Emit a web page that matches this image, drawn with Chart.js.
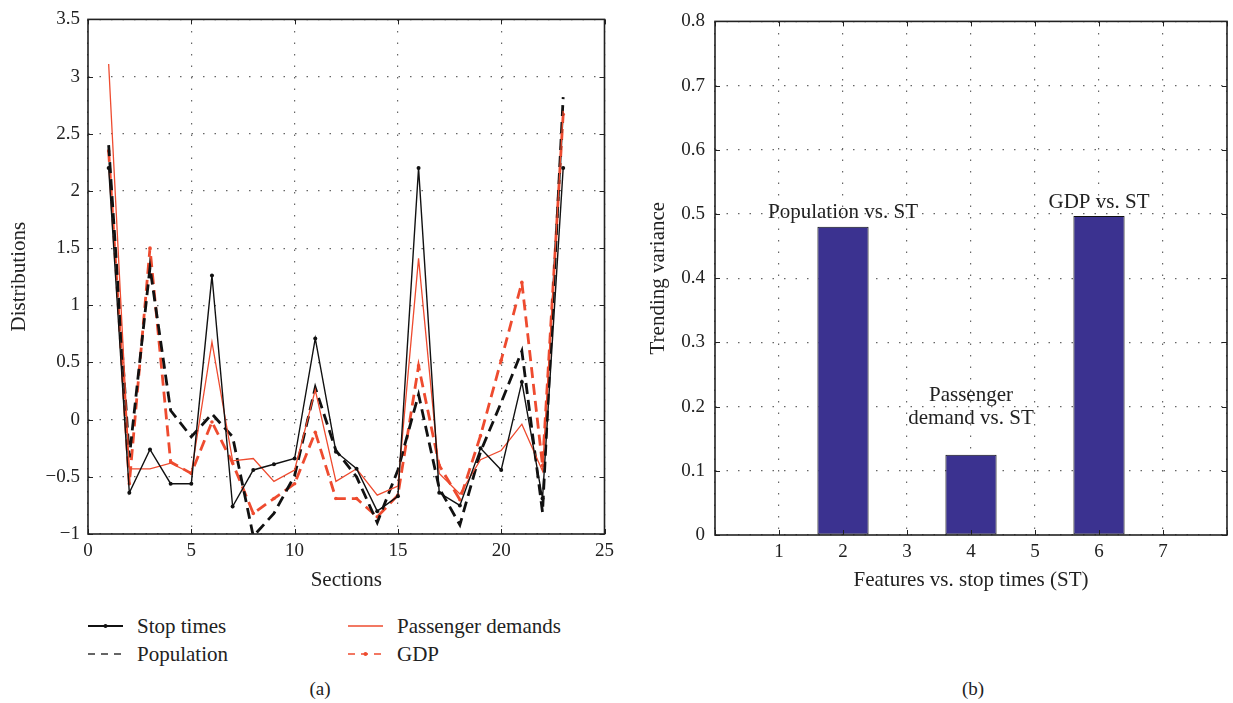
<!DOCTYPE html>
<html>
<head>
<meta charset="utf-8">
<script src="https://cdn.jsdelivr.net/npm/chart.js@4.4.1/dist/chart.umd.min.js"></script>
<style>
  body { margin: 0; background: #fff; width: 1233px; height: 703px; position: relative; overflow: hidden; font-family: "Liberation Serif", "Times New Roman", serif; color: #222; }
  canvas { position: absolute; top: 0; }
  #left { left: 0; }
  #right { left: 640px; }
  .leg { position: absolute; font-size: 21px; line-height: 22px; display: flex; align-items: center; }
  .leg svg { margin-right: 14px; }
  .cap { position: absolute; font-size: 19px; transform: translateX(-50%); }
</style>
</head>
<body>
<canvas id="left" width="620" height="600"></canvas>
<canvas id="right" width="593" height="600"></canvas>

<div class="leg" style="left:88px; top:615px;"><svg width="35" height="8"><line x1="0" y1="4" x2="35" y2="4" stroke="#111" stroke-width="2"/><circle cx="17.5" cy="4" r="2" fill="#111"/></svg>Stop times</div>
<div class="leg" style="left:88px; top:643px;"><svg width="35" height="8"><line x1="0" y1="4" x2="35" y2="4" stroke="#333" stroke-width="1.6" stroke-dasharray="7,6"/></svg>Population</div>
<div class="leg" style="left:348px; top:615px;"><svg width="35" height="8"><line x1="0" y1="4" x2="35" y2="4" stroke="#ee4b2f" stroke-width="1.6"/></svg>Passenger demands</div>
<div class="leg" style="left:348px; top:643px;"><svg width="35" height="8"><line x1="0" y1="4" x2="35" y2="4" stroke="#ee4b2f" stroke-width="1.6" stroke-dasharray="7,6"/><circle cx="17.5" cy="4" r="2" fill="#ee4b2f"/></svg>GDP</div>

<div class="cap" style="left:320px; top:678px;">(a)</div>
<div class="cap" style="left:973px; top:678px;">(b)</div>

<script>
// === données (a) ===
const sections = [1, 2, 3, 4, 5, 6, 7, 8, 9, 10, 11, 12, 13, 14, 15, 16, 17, 18, 19, 20, 21, 22, 23];
const stopTimes = [2.2, -0.64, -0.26, -0.56, -0.56, 1.26, -0.76, -0.44, -0.39, -0.34, 0.71, -0.28, -0.43, -0.80, -0.67, 2.2, -0.64, -0.75, -0.25, -0.44, 0.33, -0.69, 2.2];
const population = [2.40, -0.33, 1.33, 0.08, -0.15, 0.05, -0.15, -1.02, -0.82, -0.49, 0.28, -0.27, -0.50, -0.90, -0.44, 0.22, -0.60, -0.92, -0.28, 0.15, 0.60, -0.81, 2.82];
const passengerDemands = [3.11, -0.43, -0.43, -0.38, -0.47, 0.68, -0.36, -0.34, -0.54, -0.44, 0.26, -0.54, -0.43, -0.66, -0.58, 1.41, -0.47, -0.65, -0.35, -0.27, -0.04, -0.45, 2.7];
const gdp = [2.35, -0.56, 1.50, -0.37, -0.47, -0.02, -0.38, -0.82, -0.69, -0.56, -0.11, -0.69, -0.69, -0.85, -0.66, 0.47, -0.40, -0.70, -0.14, 0.52, 1.20, -0.40, 2.67];

// === données (b) ===
const features = ['0', '1', '2', '3', '4', '5', '6', '7', '8'];
const trendingVariance = [null, 0, 0.48, 0, 0.125, 0, 0.497, 0, null];
const barNotes = [
    { label: '2', y: 0.503, text: ['Population vs. ST'] },
    { label: '4', y: 0.2, text: ['Passenger', 'demand vs. ST'] },
    { label: '6', y: 0.518, text: ['GDP vs. ST'] }
];

const RED = '#ee4b2f';
const INK = '#222';
const SERIF = '"Liberation Serif", "Times New Roman", serif';
Chart.defaults.font.family = SERIF;
Chart.defaults.font.size = 19;
Chart.defaults.color = INK;

const pts = (ys) => sections.map((s, i) => ({ x: s, y: ys[i] }));

// cadre + petites graduations vers l'intérieur
const frameTicks = {
    id: 'frameTicks',
    afterDraw(chart) {
        const { ctx, chartArea: a, scales } = chart;
        ctx.save();
        ctx.strokeStyle = INK;
        ctx.lineWidth = 1;
        ctx.beginPath();
        scales.x.ticks.forEach((t, i) => {
            const px = Math.round(scales.x.getPixelForTick(i)) + 0.5;
            ctx.moveTo(px, a.bottom); ctx.lineTo(px, a.bottom - 5);
            ctx.moveTo(px, a.top); ctx.lineTo(px, a.top + 5);
        });
        scales.y.ticks.forEach((t, i) => {
            const py = Math.round(scales.y.getPixelForTick(i)) + 0.5;
            ctx.moveTo(a.left, py); ctx.lineTo(a.left + 5, py);
            ctx.moveTo(a.right, py); ctx.lineTo(a.right - 5, py);
        });
        ctx.stroke();
        ctx.lineWidth = 1.6;
        ctx.strokeRect(a.left, a.top, a.right - a.left, a.bottom - a.top);
        ctx.restore();
    }
};

const dotted = { color: '#666', lineWidth: 1.2 };
const titleFont = { size: 21 };

new Chart(document.getElementById('left'), {
    type: 'line',
    data: {
        datasets: [
            { label: 'Stop times', data: pts(stopTimes), borderColor: '#111', borderWidth: 1.4, pointRadius: 2, pointBackgroundColor: '#111', pointBorderWidth: 0 },
            { label: 'Passenger demands', data: pts(passengerDemands), borderColor: RED, borderWidth: 1.3, pointRadius: 0 },
            { label: 'Population', data: pts(population), borderColor: '#111', borderWidth: 2.8, borderDash: [11, 6], pointRadius: 0 },
            { label: 'GDP', data: pts(gdp), borderColor: RED, borderWidth: 2.8, borderDash: [11, 6], pointRadius: 1.8, pointBackgroundColor: RED, pointBorderWidth: 0 }
        ]
    },
    options: {
        responsive: false,
        animation: false,
        layout: { padding: { top: 15, right: 10, left: 0, bottom: 0 } },
        plugins: { legend: { display: false }, tooltip: { enabled: false } },
        scales: {
            x: {
                type: 'linear', min: 0, max: 25,
                ticks: { stepSize: 5, padding: 6, maxRotation: 0 },
                grid: { ...dotted, drawTicks: false },
                border: { display: false, dash: [1.5, 10] },
                title: { display: true, text: 'Sections', font: titleFont, padding: { top: 0, bottom: 7 } },
                afterFit: s => { s.height = 66; }
            },
            y: {
                min: -1, max: 3.5,
                ticks: { stepSize: 0.5, padding: 8, callback: v => String(v).replace('-', '\u2212') },
                grid: { ...dotted, drawTicks: false },
                border: { display: false, dash: [1.5, 10] },
                title: { display: true, text: 'Distributions', font: titleFont, padding: { top: 7, bottom: 0 } },
                afterFit: s => { s.width = 88; }
            }
        }
    },
    plugins: [frameTicks]
});

// textes au-dessus des barres
const notes = {
    id: 'notes',
    afterDraw(chart) {
        const { ctx, scales } = chart;
        ctx.save();
        ctx.fillStyle = INK;
        ctx.font = '21px ' + SERIF;
        ctx.textAlign = 'center';
        ctx.textBaseline = 'middle';
        barNotes.forEach(n => {
            const px = scales.x.getPixelForValue(features.indexOf(n.label));
            const py = scales.y.getPixelForValue(n.y);
            const top = py - (n.text.length - 1) * 11.5;
            n.text.forEach((line, i) => ctx.fillText(line, px, top + i * 23));
        });
        ctx.restore();
    }
};

new Chart(document.getElementById('right'), {
    type: 'bar',
    data: {
        labels: features,
        datasets: [{
            data: trendingVariance,
            backgroundColor: '#3b3290',
            borderColor: '#111',
            borderWidth: 1,
            borderSkipped: false,
            barPercentage: 0.8,
            categoryPercentage: 1
        }]
    },
    options: {
        responsive: false,
        animation: false,
        layout: { padding: { top: 15, right: 2, left: 0, bottom: 0 } },
        plugins: { legend: { display: false }, tooltip: { enabled: false } },
        scales: {
            x: {
                offset: false,
                ticks: { padding: 6, maxRotation: 0, autoSkip: false, callback: (v, i) => (i === 0 || i === features.length - 1) ? '' : features[i] },
                grid: { ...dotted, drawTicks: false, offset: false },
                border: { display: false, dash: [1.5, 10] },
                title: { display: true, text: 'Features vs. stop times (ST)', font: titleFont, padding: { top: 0, bottom: 7 } },
                afterFit: s => { s.height = 65; }
            },
            y: {
                min: 0, max: 0.8,
                ticks: { stepSize: 0.1, padding: 10, callback: v => Number(v.toFixed(1)).toString() },
                grid: { ...dotted, drawTicks: false },
                border: { display: false, dash: [1.5, 10] },
                title: { display: true, text: 'Trending variance', font: titleFont, padding: { top: 6, bottom: 0 } },
                afterFit: s => { s.width = 75; }
            }
        }
    },
    plugins: [frameTicks, notes]
});
</script>
</body>
</html>
